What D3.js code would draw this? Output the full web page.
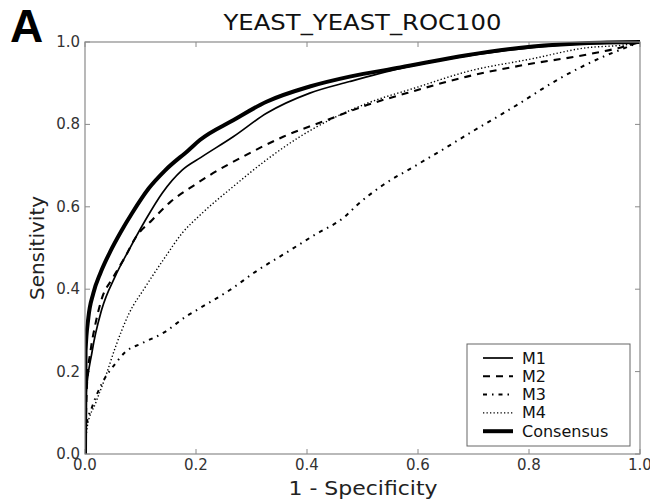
<!DOCTYPE html>
<html>
<head>
<meta charset="utf-8">
<script src="https://cdn.jsdelivr.net/npm/d3@7"></script>
<style>
  body { margin: 0; background: #fff; }
  svg { font-family: "DejaVu Sans", sans-serif; }
</style>
</head>
<body>
<svg width="650" height="500"></svg>
<script>
// ROC points, [1 - specificity, sensitivity]
const m1 = [[0,0],[0.001,0.13],[0.013,0.25],[0.03,0.35],[0.054,0.43],[0.079,0.495],[0.109,0.568],
  [0.139,0.633],[0.175,0.689],[0.209,0.72],[0.267,0.77],[0.327,0.827],[0.405,0.876],[0.477,0.904],
  [0.568,0.936],[0.65,0.958],[0.75,0.978],[0.85,0.992],[0.93,0.998],[1,1]];
const m2 = [[0,0],[0.004,0.18],[0.01,0.25],[0.019,0.317],[0.031,0.38],[0.049,0.425],[0.073,0.48],
  [0.091,0.525],[0.121,0.568],[0.154,0.612],[0.193,0.649],[0.225,0.677],[0.285,0.722],[0.357,0.77],
  [0.435,0.81],[0.508,0.847],[0.58,0.876],[0.688,0.916],[0.79,0.944],[0.898,0.968],[0.96,0.985],[1,1]];
const m3 = [[0,0],[0.002,0.066],[0.013,0.115],[0.03,0.17],[0.055,0.22],[0.073,0.248],[0.103,0.269],
  [0.145,0.297],[0.181,0.333],[0.207,0.354],[0.261,0.398],[0.309,0.444],[0.363,0.489],[0.414,0.532],
  [0.468,0.576],[0.49,0.604],[0.537,0.653],[0.592,0.697],[0.646,0.74],[0.697,0.782],[0.751,0.825],
  [0.778,0.847],[0.856,0.912],[0.94,0.968],[0.97,0.984],[1,1]];
const m4 = [[0,0],[0.004,0.066],[0.019,0.123],[0.037,0.188],[0.055,0.26],[0.079,0.34],[0.109,0.406],
  [0.145,0.479],[0.175,0.536],[0.209,0.582],[0.267,0.649],[0.327,0.714],[0.387,0.77],[0.447,0.815],
  [0.508,0.851],[0.598,0.89],[0.688,0.928],[0.808,0.96],[0.898,0.985],[0.982,0.995],[1,1]];
const consensus = [[0,0],[0.001,0.25],[0.006,0.33],[0.015,0.39],[0.028,0.44],[0.045,0.49],[0.065,0.54],
  [0.085,0.585],[0.115,0.645],[0.144,0.688],[0.187,0.738],[0.207,0.762],[0.267,0.81],[0.327,0.855],
  [0.405,0.892],[0.477,0.916],[0.568,0.938],[0.688,0.968],[0.807,0.989],[0.898,0.997],[1,1]];

const seriesNames = ["M1", "M2", "M3", "M4", "Consensus"];
const seriesData = [m1, m2, m3, m4, consensus];
const ticks = [0, 0.2, 0.4, 0.6, 0.8, 1.0];

const styles = {
  "M1": { w: 1.7, dash: null },
  "M2": { w: 2.1, dash: "7,6" },
  "M3": { w: 2, dash: "4,5,1.5,5" },
  "M4": { w: 1.4, dash: "1.3,2.2" },
  "Consensus": { w: 4, dash: null }
};

const marL = 85, marR = 640, marT = 42, marB = 454;
const svg = d3.select("svg");

const x = d3.scaleLinear().domain([0, 1]).range([marL, marR]);
const y = d3.scaleLinear().domain([0, 1]).range([marB, marT]);

const line = d3.line().x(d => x(d[0])).y(d => y(d[1])).curve(d3.curveMonotoneX);

svg.append("text").attr("x", 10).attr("y", 42)
   .attr("font-size", 46).attr("font-weight", "bold")
   .attr("font-family", "Liberation Sans, Arial, sans-serif")
   .text("A");

svg.append("text").attr("x", 362.5).attr("y", 29.5)
   .attr("text-anchor", "middle").attr("font-size", 22).attr("fill", "#111")
   .attr("textLength", 278).attr("lengthAdjust", "spacingAndGlyphs")
   .text("YEAST_YEAST_ROC100");

// inward ticks on all four sides
const frameColor = "#8a8a8a";
const ax = svg.append("g");
ticks.forEach(t => {
  ax.append("line").attr("x1", x(t)).attr("x2", x(t)).attr("y1", marB).attr("y2", marB - 5).attr("stroke", frameColor);
  ax.append("line").attr("x1", x(t)).attr("x2", x(t)).attr("y1", marT).attr("y2", marT + 5).attr("stroke", frameColor);
  ax.append("line").attr("y1", y(t)).attr("y2", y(t)).attr("x1", marL).attr("x2", marL + 5).attr("stroke", frameColor);
  ax.append("line").attr("y1", y(t)).attr("y2", y(t)).attr("x1", marR).attr("x2", marR - 5).attr("stroke", frameColor);
});

ax.selectAll("text.xt").data(ticks).enter().append("text")
  .attr("class", "xt")
  .attr("x", d => x(d)).attr("y", marB + 16)
  .attr("text-anchor", "middle").attr("font-size", 15).attr("fill", "#333")
  .text(d3.format(".1f"));

ax.selectAll("text.yt").data(ticks).enter().append("text")
  .attr("class", "yt")
  .attr("x", marL - 5).attr("y", d => y(d) + 5)
  .attr("text-anchor", "end").attr("font-size", 15).attr("fill", "#333")
  .text(d3.format(".1f"));

svg.append("text").attr("x", 363).attr("y", 495)
   .attr("text-anchor", "middle").attr("font-size", 20).attr("fill", "#222")
   .attr("textLength", 149).attr("lengthAdjust", "spacingAndGlyphs")
   .text("1 - Specificity");

svg.append("text").attr("transform", `translate(44, ${(marT + marB) / 2}) rotate(-90)`)
   .attr("text-anchor", "middle").attr("font-size", 20).attr("fill", "#222")
   .text("Sensitivity");

svg.append("defs").append("clipPath").attr("id", "clip")
   .append("rect").attr("x", marL).attr("y", marT - 3).attr("width", marR - marL).attr("height", marB - marT + 3);

const plot = svg.append("g").attr("clip-path", "url(#clip)");
seriesNames.forEach((name, i) => {
  plot.append("path")
      .datum(seriesData[i])
      .attr("d", line)
      .attr("fill", "none")
      .attr("stroke", "#000")
      .attr("stroke-width", styles[name].w)
      .attr("stroke-dasharray", styles[name].dash);
});

svg.append("rect").attr("x", marL).attr("y", marT)
   .attr("width", marR - marL).attr("height", marB - marT)
   .attr("fill", "none").attr("stroke", frameColor).attr("stroke-width", 1.2);

// legend
const legend = svg.append("g");
legend.append("rect").attr("x", 467).attr("y", 344).attr("width", 163).attr("height", 102)
      .attr("fill", "#fff").attr("stroke", "#666").attr("stroke-width", 1);

seriesNames.forEach((name, i) => {
  const ly = 358 + i * 18.3;
  legend.append("line").attr("x1", 483).attr("x2", 513).attr("y1", ly).attr("y2", ly)
        .attr("stroke", "#000").attr("stroke-width", styles[name].w)
        .attr("stroke-dasharray", styles[name].dash);
  legend.append("text").attr("x", 522).attr("y", ly + 5.5)
        .attr("font-size", 16).attr("fill", "#111").text(name);
});
</script>
</body>
</html>
